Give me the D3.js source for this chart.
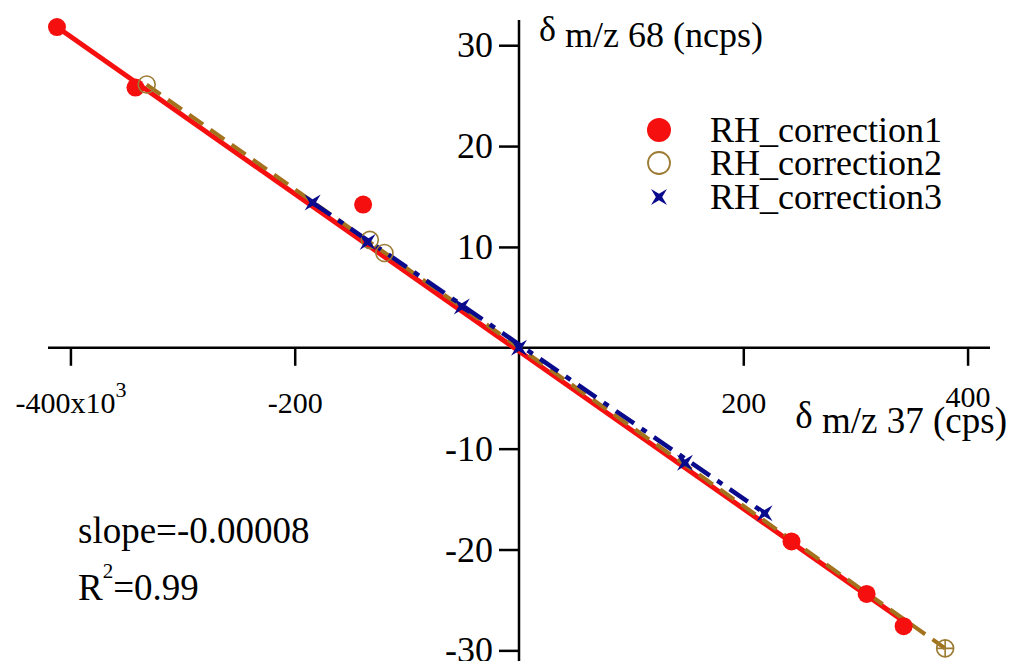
<!DOCTYPE html>
<html>
<head>
<meta charset="utf-8">
<script src="https://cdnjs.cloudflare.com/ajax/libs/d3/7.8.5/d3.min.js"></script>
<style>
  body { margin: 0; background: #fff; }
  svg { display: block; font-family: "Liberation Serif", "Times New Roman", serif; }
</style>
</head>
<body>
<svg id="chart" width="1010" height="661"></svg>
<script>
// values, x in thousands of cps
var seriesNames = ["RH_correction1", "RH_correction2", "RH_correction3"];

var corr1X = [-412, -342, -139, 243, 310, 343];
var corr1Y = [31.8, 25.8, 14.2, -19.2, -24.4, -27.6];

var corr2X = [-332, -133, -120, 380];
var corr2Y = [26.1, 10.7, 9.4, -29.8];

var corr3X = [-184, -135, -51, 0, 148, 219];
var corr3Y = [14.4, 10.5, 4.1, 0, -11.4, -16.4];

// fitted lines (end points)
var fit1X = [-412, 343], fit1Y = [31.8, -27.1];
var fit2X = [-332, 380], fit2Y = [26.1, -29.8];
var fit3X = [-184, 219], fit3Y = [14.4, -16.4];

var xTicks = [-400, -200, 200, 400];
var yTicks = [-30, -20, -10, 10, 20, 30];

var red = "#f50f0f", brown = "#a2721c", brownMk = "#9c7b33", blue = "#0a0a8c";
var serif = "Liberation Serif, Times New Roman, serif";

var svg = d3.select("#chart");

var x = d3.scaleLinear().domain([-420, 420]).range([48, 990]);
var y = d3.scaleLinear().domain([-31.5, 32.5]).range([665.5, 20]);

function zip(a, b) { return a.map(function (v, i) { return [v, b[i]]; }); }

var line = d3.line()
    .x(function (d) { return x(d[0]); })
    .y(function (d) { return y(d[1]); });

// axes crossing at origin
var xAxis = svg.append("g")
    .attr("transform", "translate(0," + y(0) + ")")
    .call(d3.axisBottom(x).tickValues(xTicks).tickSize(18).tickPadding(26)
        .tickFormat(function (d) { return d === -400 ? "" : String(d); }));
xAxis.select(".domain").attr("d", "M" + x(-420) + ",0H" + x(420));
xAxis.selectAll("line, path").attr("stroke", "#000").attr("stroke-width", 2.5);
xAxis.selectAll("text").attr("font-size", 30).attr("font-family", serif).attr("fill", "#000");
xAxis.selectAll(".tick").filter(function (d) { return d === 400; }).select("text").attr("y", 38);

// -400x10^3 label
var lab = xAxis.selectAll(".tick").filter(function (d) { return d === -400; }).select("text");
lab.append("tspan").text("-400x10");
lab.append("tspan").attr("font-size", 22).attr("dy", "-0.75em").text("3");

var yAxis = svg.append("g")
    .attr("transform", "translate(" + x(0) + ",0)")
    .call(d3.axisLeft(y).tickValues(yTicks).tickSize(20).tickPadding(6)
        .tickFormat(function (d) { return String(d); }));
yAxis.select(".domain").attr("d", "M0," + y(32.5) + "V" + y(-31.5));
yAxis.selectAll("line, path").attr("stroke", "#000").attr("stroke-width", 2.5);
yAxis.selectAll("text").attr("font-size", 36).attr("font-family", serif).attr("fill", "#000");

// axis titles
var t1 = svg.append("text").attr("x", 539).attr("y", 47).attr("font-size", 36);
t1.append("tspan").attr("dy", -6).text("\u03b4");
t1.append("tspan").attr("dy", 6).text(" m/z 68 (ncps)");

var t2 = svg.append("text").attr("x", 1007).attr("y", 433).attr("font-size", 37).attr("text-anchor", "end");
t2.append("tspan").attr("dy", -5).text("\u03b4");
t2.append("tspan").attr("dy", 5).text(" m/z 37 (cps)");

// fit lines
svg.append("path").datum(zip(fit1X, fit1Y)).attr("d", line)
    .attr("fill", "none").attr("stroke", red).attr("stroke-width", 5);
svg.append("path").datum(zip(fit2X, fit2Y)).attr("d", line)
    .attr("fill", "none").attr("stroke", brown).attr("stroke-width", 4)
    .attr("stroke-dasharray", "17,9");
svg.append("path").datum(zip(fit3X, fit3Y)).attr("d", line)
    .attr("fill", "none").attr("stroke", blue).attr("stroke-width", 4.5)
    .attr("stroke-dasharray", "22,9,6,9");

function star(s) {
    var k = s * 0.4;
    return "M" + (-s) + "," + (-s) + "L0," + (-k) + "L" + s + "," + (-s) + "L" + k + ",0L" + s + "," + s +
        "L0," + k + "L" + (-s) + "," + s + "L" + (-k) + ",0Z";
}

// markers
svg.append("g").selectAll("circle").data(zip(corr1X, corr1Y)).enter().append("circle")
    .attr("cx", function (d) { return x(d[0]); })
    .attr("cy", function (d) { return y(d[1]); })
    .attr("r", 9).attr("fill", red);

var c2 = svg.append("g").selectAll("g").data(zip(corr2X, corr2Y)).enter().append("g")
    .attr("transform", function (d) { return "translate(" + x(d[0]) + "," + y(d[1]) + ")"; });
c2.append("circle").attr("r", 8.5).attr("fill", "none").attr("stroke", brownMk).attr("stroke-width", 1.6);
c2.filter(function (d, i) { return i === corr2X.length - 1; }).append("path")
    .attr("d", "M-8.5,0H8.5M0,-8.5V8.5").attr("stroke", brownMk).attr("stroke-width", 1.6);

svg.append("g").selectAll("path").data(zip(corr3X, corr3Y)).enter().append("path")
    .attr("transform", function (d) { return "translate(" + x(d[0]) + "," + y(d[1]) + ")"; })
    .attr("d", star(8)).attr("fill", blue);

// legend
var leg = svg.append("g").selectAll("g").data(seriesNames).enter().append("g")
    .attr("transform", function (d, i) { return "translate(659," + [130, 163, 197][i] + ")"; });
leg.append("text").attr("x", 51).attr("y", 12).attr("font-size", 36).text(function (d) { return d; });
leg.filter(function (d, i) { return i === 0; }).append("circle").attr("r", 12).attr("fill", red);
leg.filter(function (d, i) { return i === 1; }).append("circle").attr("r", 11)
    .attr("fill", "none").attr("stroke", brownMk).attr("stroke-width", 1.8);
leg.filter(function (d, i) { return i === 2; }).append("path").attr("d", star(8)).attr("fill", blue);

// annotation
svg.append("text").attr("x", 78).attr("y", 543).attr("font-size", 37).text("slope=-0.00008");
var r2 = svg.append("text").attr("x", 78).attr("y", 600).attr("font-size", 37);
r2.append("tspan").text("R");
r2.append("tspan").attr("font-size", 21).attr("dy", -22).text("2");
r2.append("tspan").attr("dy", 22).text("=0.99");
</script>
</body>
</html>
